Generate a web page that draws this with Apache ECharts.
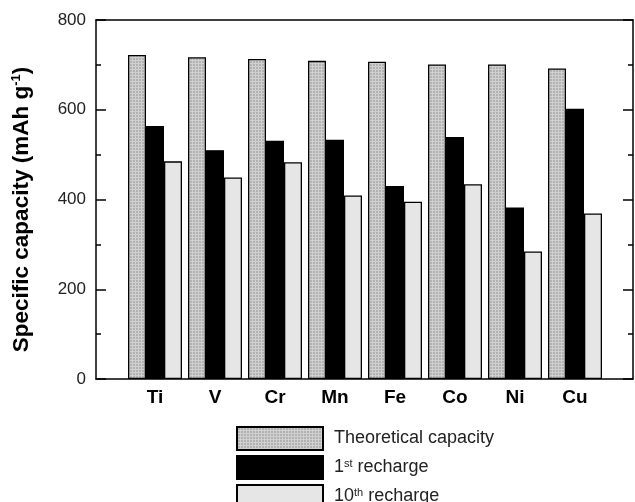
<!DOCTYPE html>
<html>
<head>
<meta charset="utf-8">
<script src="https://cdn.jsdelivr.net/npm/echarts@6/dist/echarts.min.js"></script>
<style>
  html, body { margin: 0; padding: 0; background: #fff; }
  #chart { width: 635px; height: 502px; }
</style>
</head>
<body>
<div id="chart"></div>
<script>
// Transition metals and their specific capacities (mAh g-1)
const elements = ['Ti', 'V', 'Cr', 'Mn', 'Fe', 'Co', 'Ni', 'Cu'];
const theoretical = [722, 717, 713, 709, 707, 701, 701, 692];
const firstRecharge = [564, 510, 531, 533, 430, 539, 382, 602];
const tenthRecharge = [485, 449, 483, 409, 395, 434, 284, 369];
const seriesNames = ['Theoretical capacity', '1st recharge', '10th recharge'];
const yMin = 0, yMax = 800, yStep = 200;

const FONT = 'Liberation Sans, Arial, Helvetica, sans-serif';

// fine stippled grey fill for the theoretical bars
function stipple() {
  const c = document.createElement('canvas');
  c.width = 3; c.height = 3;
  const g = c.getContext('2d');
  g.fillStyle = '#b2b2b2';
  g.fillRect(0, 0, 3, 3);
  g.fillStyle = '#d0d0d0';
  g.fillRect(0, 0, 3, 1);
  g.fillRect(0, 0, 1, 3);
  return c;
}

const chart = echarts.init(document.getElementById('chart'), null, { renderer: 'canvas' });

const frameLine = { show: true, onZero: false, lineStyle: { color: '#000', width: 1.5 } };
const valueAxisBase = {
  type: 'value', min: yMin, max: yMax, interval: yStep,
  splitLine: { show: false }
};
const tickLine = { color: '#000', width: 1.5 };
const majorTick = { show: true, inside: true, length: 10, lineStyle: tickLine };
const minorTick = { show: true, splitNumber: 2, length: 5, lineStyle: tickLine };

const barBorder = { borderColor: '#000', borderWidth: 1.3 };

chart.setOption({
  animation: false,
  backgroundColor: '#fff',
  textStyle: { fontFamily: FONT },
  grid: [
    // frame around the plot
    { left: 96, top: 20, width: 537, height: 359, containLabel: false },
    // inner band holding the bar groups
    { left: 125, top: 20, width: 480, height: 359, containLabel: false }
  ],
  xAxis: [
    { gridIndex: 0, type: 'value', min: 0, max: 1, position: 'bottom',
      axisLine: frameLine, axisTick: { show: false }, axisLabel: { show: false }, splitLine: { show: false } },
    { gridIndex: 0, type: 'value', min: 0, max: 1, position: 'top',
      axisLine: frameLine, axisTick: { show: false }, axisLabel: { show: false }, splitLine: { show: false } },
    { gridIndex: 1, type: 'category', data: elements, position: 'bottom',
      axisLine: { show: false }, axisTick: { show: false }, splitLine: { show: false },
      axisLabel: { color: '#000', fontWeight: 'bold', fontSize: 19, fontFamily: FONT, margin: 9 } }
  ],
  yAxis: [
    Object.assign({}, valueAxisBase, {
      gridIndex: 0, position: 'left',
      axisLine: frameLine, axisTick: majorTick, minorTick: minorTick,
      axisLabel: { color: '#222', fontSize: 17, fontFamily: FONT, margin: 10 },
      name: 'Specific capacity (mAh g{sup|-1})',
      nameLocation: 'middle', nameRotate: 90, nameGap: 63,
      nameTextStyle: {
        color: '#000', fontWeight: 'bold', fontSize: 22.5, fontFamily: FONT,
        padding: [0, 20, 0, 0],
        rich: { sup: { fontSize: 13, fontWeight: 'bold', fontFamily: FONT, color: '#000', verticalAlign: 'top', lineHeight: 13 } }
      }
    }),
    Object.assign({}, valueAxisBase, {
      gridIndex: 0, position: 'right',
      axisLine: frameLine, axisTick: majorTick, minorTick: minorTick,
      axisLabel: { show: false }
    }),
    Object.assign({}, valueAxisBase, {
      gridIndex: 1, show: false
    })
  ],
  legend: {
    orient: 'vertical', left: 236, top: 426, height: 100, padding: 0,
    itemWidth: 86, itemHeight: 23, itemGap: 4,
    icon: 'rect',
    data: seriesNames,
    formatter: name => name.replace(/^(\d+)(st|th)/, '$1{sup|$2}'),
    textStyle: {
      color: '#222', fontSize: 18, fontFamily: FONT, padding: [0, 0, 0, 6],
      rich: { sup: { fontSize: 11, fontFamily: FONT, color: '#222', verticalAlign: 'top', lineHeight: 11 } }
    }
  },
  series: [
    { name: seriesNames[0], type: 'bar', xAxisIndex: 2, yAxisIndex: 2,
      barWidth: 18, barGap: '0%', data: theoretical,
      itemStyle: Object.assign({ color: { image: stipple(), repeat: 'repeat' } }, barBorder) },
    { name: seriesNames[1], type: 'bar', xAxisIndex: 2, yAxisIndex: 2,
      barWidth: 18, barGap: '0%', data: firstRecharge,
      itemStyle: Object.assign({ color: '#000' }, barBorder) },
    { name: seriesNames[2], type: 'bar', xAxisIndex: 2, yAxisIndex: 2,
      barWidth: 18, barGap: '0%', data: tenthRecharge,
      itemStyle: Object.assign({ color: '#e6e6e6' }, barBorder) }
  ]
});
</script>
</body>
</html>
